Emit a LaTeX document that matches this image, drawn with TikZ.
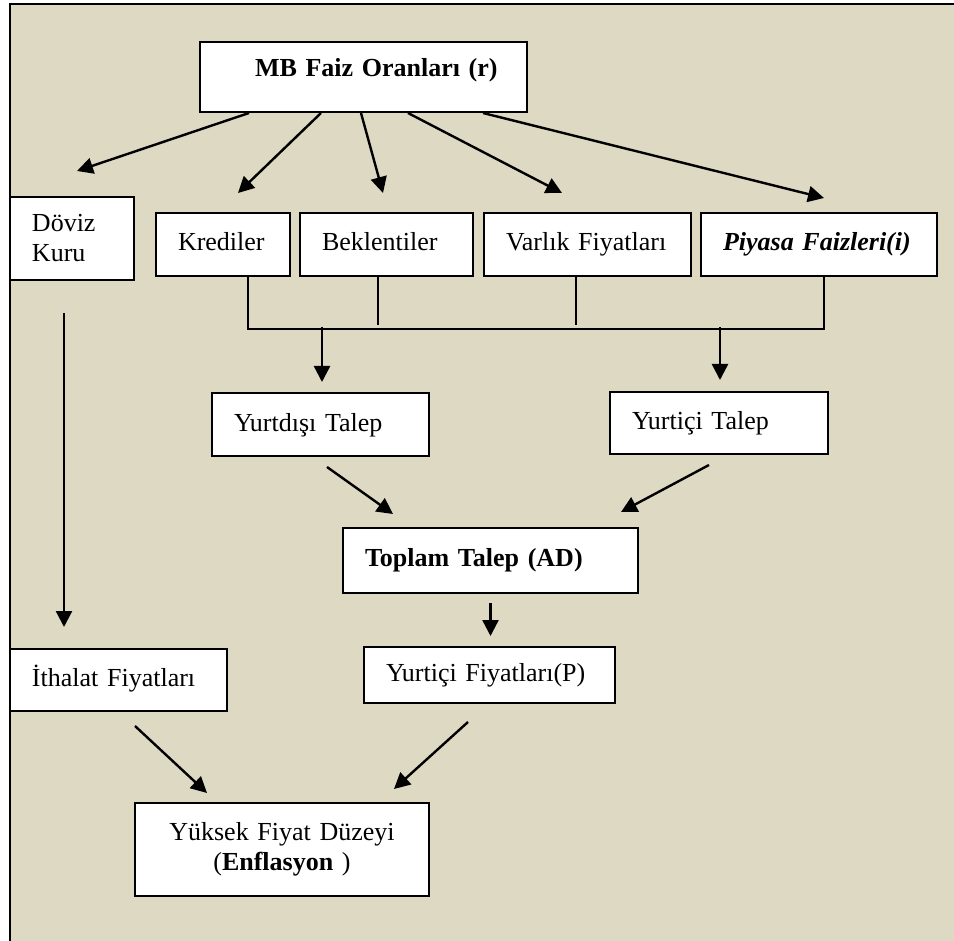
\documentclass[tikz,border=0pt]{standalone}
\usepackage{fontspec}
\setmainfont{Liberation Serif}
\usetikzlibrary{arrows.meta}
\definecolor{paper}{RGB}{221,217,195}

\begin{document}
\begin{tikzpicture}[
    x=0.5pt, y=-0.5pt,
    box/.style={draw, fill=white, line width=1pt, align=left,
        inner xsep=11pt, inner ysep=0pt,
        font=\fontsize{13}{15}\selectfont},
    row/.style={box, text height=9.75pt, text depth=3.25pt},
    flow/.style={line width=1.2pt, -{Triangle[length=8pt, width=8pt]}},
    bus/.style={line width=0.8pt},
]
    \path [use as bounding box, fill=white]
        (0,0) rectangle (954,941)
        ;
    \fill [paper]
        (10,4) rectangle (954,941)
        ;
    \draw [line width=1.2pt]
        (10,941) -- (10,4) -- (954,4)
        ;

    \node [row, text width=141.5pt, minimum height=35pt, text depth=9.75pt] (rate)
        at (363.5,77)
        {\hspace*{16.5pt}\textbf{MB Faiz Oranları (r)}};

    \node [box, text width=40pt, minimum height=41.5pt] (fx)
        at (72,238.5)
        {Döviz\\Kuru};
    \node [row, text width=45pt, minimum height=31.5pt] (credit)
        at (223,244.5)
        {Krediler};
    \node [row, text width=64.5pt, minimum height=31.5pt] (expect)
        at (386.5,244.5)
        {Beklentiler};
    \node [row, text width=81.5pt, minimum height=31.5pt] (asset)
        at (587.5,244.5)
        {Varlık~Fiyatları};
    \node [row, text width=96pt, minimum height=31.5pt] (market)
        at (819,244.5)
        {\textbf{\textit{Piyasa~Faizleri(i)}}};

    \node [row, text width=86.5pt, minimum height=31.5pt] (foreign)
        at (320.5,424.5)
        {Yurtdışı Talep};
    \node [row, text width=87pt, minimum height=31pt] (domestic)
        at (719,423)
        {Yurtiçi Talep};

    \node [row, text width=125.5pt, minimum height=32.5pt] (total)
        at (490.5,560.5)
        {\textbf{Toplam Talep (AD)}};

    \node [row, text width=86.5pt, minimum height=31pt] (import)
        at (118.5,680)
        {İthalat Fiyatları};
    \node [row, text width=103.5pt, minimum height=28pt] (prices)
        at (489.5,675)
        {Yurtiçi~Fiyatları(P)};

    \node [box, align=center, text width=125pt, minimum height=46.5pt] (inflation)
        at (282,849.5)
        {Yüksek Fiyat Düzeyi\\(\textbf{Enflasyon} )\hspace*{10pt}};

    \draw [flow]
        ([shift={(50,0)}]rate.south west)
        --
        ([shift={(68,-25)}]fx.north west)
        ;
    \draw [flow]
        ([shift={(122,0)}]rate.south west)
        --
        ([shift={(15,-19)}]credit.north)
        ;
    \draw [flow]
        ([shift={(-2.5,0)}]rate.south)
        --
        ([shift={(-3.5,-19)}]expect.north)
        ;
    \draw [flow]
        ([shift={(44.5,0)}]rate.south)
        --
        ([shift={(-25.5,-19)}]asset.north)
        ;
    \draw [flow]
        ([shift={(119.5,0)}]rate.south)
        --
        ([shift={(5,-14)}]market.north)
        ;

    \draw [bus]
        ([shift={(25,0)}]credit.south)
        -- ++(0,52)
        -| ([shift={(5,0)}]market.south)
        ;
    \draw [bus]
        ([shift={(-8.5,0)}]expect.south)
        -- ++(0,48)
        ;
    \draw [bus]
        ([shift={(-11.5,0)}]asset.south)
        -- ++(0,48)
        ;

    \draw [flow]
        ([shift={(1.5,-65)}]foreign.north)
        --
        ([shift={(1.5,-10)}]foreign.north)
        ;
    \draw [flow]
        ([shift={(1,-64)}]domestic.north)
        --
        ([shift={(1,-11)}]domestic.north)
        ;

    \draw [flow]
        ([shift={(6.5,10)}]foreign.south)
        --
        ([shift={(-97.5,-13)}]total.north)
        ;
    \draw [flow]
        ([shift={(-10,10)}]domestic.south)
        --
        ([shift={(-18,-15)}]total.north east)
        ;
    \draw [flow]
        ([shift={(0,9)}]total.south)
        --
        ([shift={(1,-10)}]prices.north)
        ;

    \draw [flow]
        ([shift={(-8,32)}]fx.south)
        --
        ([shift={(-54.5,-21)}]import.north)
        ;
    \draw [flow]
        ([shift={(16.5,14)}]import.south)
        --
        ([shift={(-75,-9)}]inflation.north)
        ;
    \draw [flow]
        ([shift={(-21.5,18)}]prices.south)
        --
        ([shift={(112,-13)}]inflation.north)
        ;
\end{tikzpicture}
\end{document}
